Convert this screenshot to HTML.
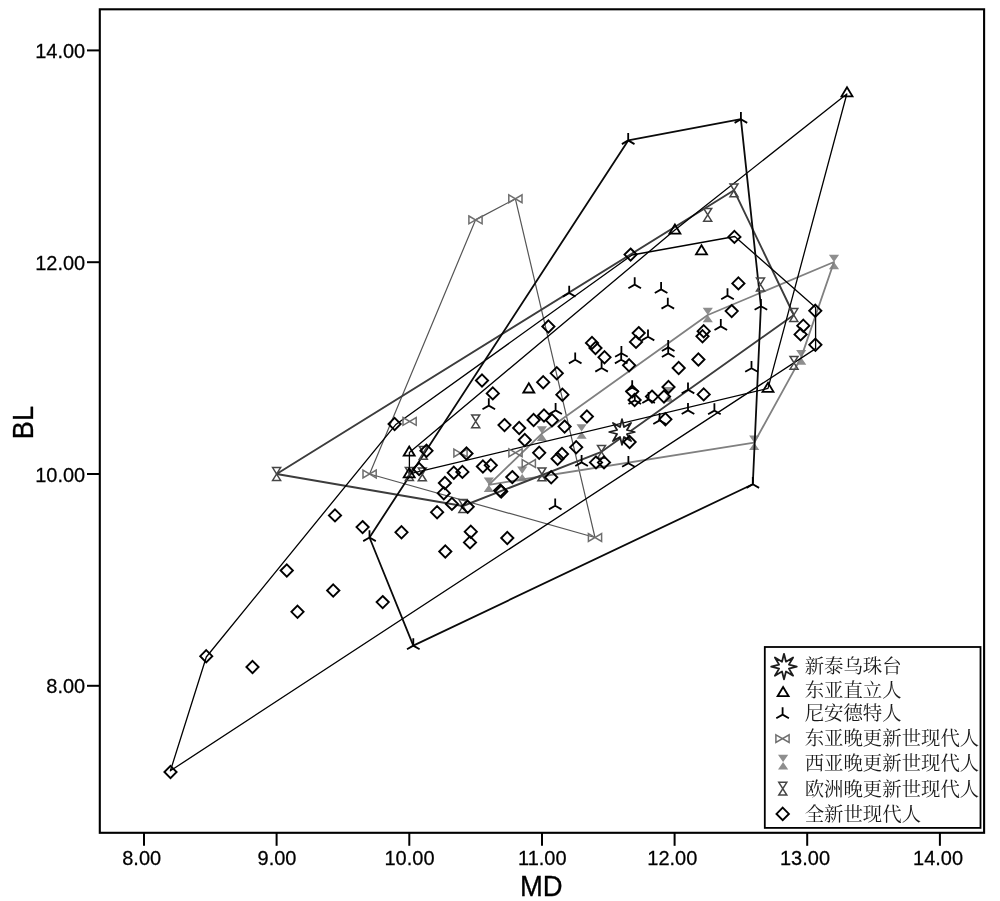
<!DOCTYPE html>
<html><head><meta charset="utf-8"><title>MD-BL</title>
<style>html,body{margin:0;padding:0;background:#fff}svg{display:block;will-change:transform}text{font-family:"Liberation Sans",sans-serif;fill:#000}</style></head>
<body>
<svg width="1000" height="901" viewBox="0 0 1000 901">
<rect width="1000" height="901" fill="#fff"/>
<rect x="99.8" y="9.3" width="884.3000000000001" height="823.5" fill="none" stroke="#000" stroke-width="2.1"/>
<line x1="144" y1="832.8" x2="144" y2="845.8" stroke="#000" stroke-width="2"/>
<text transform="translate(141.7 865.4) scale(0.985 1.03)" font-size="20.3" text-anchor="middle" stroke="#000" stroke-width="0.25">8.00</text>
<line x1="276.6" y1="832.8" x2="276.6" y2="845.8" stroke="#000" stroke-width="2"/>
<text transform="translate(277 865.4) scale(0.985 1.03)" font-size="20.3" text-anchor="middle" stroke="#000" stroke-width="0.25">9.00</text>
<line x1="409.3" y1="832.8" x2="409.3" y2="845.8" stroke="#000" stroke-width="2"/>
<text transform="translate(409.5 865.4) scale(0.985 1.03)" font-size="20.3" text-anchor="middle" stroke="#000" stroke-width="0.25">10.00</text>
<line x1="542" y1="832.8" x2="542" y2="845.8" stroke="#000" stroke-width="2"/>
<text transform="translate(542.3 865.4) scale(0.985 1.03)" font-size="20.3" text-anchor="middle" stroke="#000" stroke-width="0.25">11.00</text>
<line x1="674.6" y1="832.8" x2="674.6" y2="845.8" stroke="#000" stroke-width="2"/>
<text transform="translate(672.3 865.4) scale(0.985 1.03)" font-size="20.3" text-anchor="middle" stroke="#000" stroke-width="0.25">12.00</text>
<line x1="807.2" y1="832.8" x2="807.2" y2="845.8" stroke="#000" stroke-width="2"/>
<text transform="translate(805 865.4) scale(0.985 1.03)" font-size="20.3" text-anchor="middle" stroke="#000" stroke-width="0.25">13.00</text>
<line x1="939.9" y1="832.8" x2="939.9" y2="845.8" stroke="#000" stroke-width="2"/>
<text transform="translate(938.1 865.4) scale(0.985 1.03)" font-size="20.3" text-anchor="middle" stroke="#000" stroke-width="0.25">14.00</text>
<line x1="87" y1="685.8" x2="99.8" y2="685.8" stroke="#000" stroke-width="2"/>
<text transform="translate(85.2 693.4) scale(0.985 1.03)" font-size="20.3" text-anchor="end" stroke="#000" stroke-width="0.25">8.00</text>
<line x1="87" y1="474" x2="99.8" y2="474" stroke="#000" stroke-width="2"/>
<text transform="translate(85.2 481.6) scale(0.985 1.03)" font-size="20.3" text-anchor="end" stroke="#000" stroke-width="0.25">10.00</text>
<line x1="87" y1="262.2" x2="99.8" y2="262.2" stroke="#000" stroke-width="2"/>
<text transform="translate(85.2 269.8) scale(0.985 1.03)" font-size="20.3" text-anchor="end" stroke="#000" stroke-width="0.25">12.00</text>
<line x1="87" y1="50.4" x2="99.8" y2="50.4" stroke="#000" stroke-width="2"/>
<text transform="translate(85.2 58) scale(0.985 1.03)" font-size="20.3" text-anchor="end" stroke="#000" stroke-width="0.25">14.00</text>
<text transform="translate(541.3 896) scale(0.98 1.04)" font-size="28" text-anchor="middle" stroke="#000" stroke-width="0.3">MD</text>
<text transform="translate(33 422.6) rotate(-90) scale(0.97 1.045)" font-size="28" text-anchor="middle" stroke="#000" stroke-width="0.3">BL</text>
<path d="M483.7 477.5L493.9 477.5L483.7 492.1L493.9 492.1Z" fill="#8e8e8e" stroke="none"/>
<path d="M536.8 426.3L547 426.3L536.8 440.9L547 440.9Z" fill="#8e8e8e" stroke="none"/>
<path d="M702.7 307.7L712.9 307.7L702.7 322.3L712.9 322.3Z" fill="#8e8e8e" stroke="none"/>
<path d="M828.9 254.7L839.1 254.7L828.9 269.3L839.1 269.3Z" fill="#8e8e8e" stroke="none"/>
<path d="M796.1 350.1L806.3 350.1L796.1 364.7L806.3 364.7Z" fill="#8e8e8e" stroke="none"/>
<path d="M749.1 435.4L759.3 435.4L749.1 450L759.3 450Z" fill="#8e8e8e" stroke="none"/>
<path d="M517.1 466.6L527.3 466.6L517.1 481.2L527.3 481.2Z" fill="#8e8e8e" stroke="none"/>
<path d="M576.5 424.2L586.7 424.2L576.5 438.8L586.7 438.8Z" fill="#8e8e8e" stroke="none"/>
<path d="M663.4 387.1L673.6 387.1L663.4 401.7L673.6 401.7Z" fill="#8e8e8e" stroke="none"/>
<polygon points="369.6,474 475.5,219.9 515.4,198.8 595,537.5" fill="none" stroke="#555" stroke-width="1.2" stroke-linejoin="round"/>
<polygon points="488.8,484.8 541.9,433.6 707.8,315 834,262 801.2,357.4 754.2,442.7" fill="none" stroke="#808080" stroke-width="1.8" stroke-linejoin="round"/>
<polygon points="276.6,474 734,190.3 793.8,315 601.5,451.8 462.9,506" fill="none" stroke="#3c3c3c" stroke-width="1.9" stroke-linejoin="round"/>
<polygon points="170.4,770.8 206.3,657 395.5,424.8 632,255 734.8,236.5 815.6,307.5 815.6,348.6" fill="none" stroke="#000" stroke-width="1.3" stroke-linejoin="round"/>
<polygon points="409.4,452.5 674.9,230 846.8,94 768,388.4 409.4,473.8" fill="none" stroke="#000" stroke-width="1.3" stroke-linejoin="round"/>
<polygon points="413.3,645.6 369.5,537.5 628.2,140.4 740.9,119.2 760.9,306.2 752.8,484.3" fill="none" stroke="#0a0a0a" stroke-width="1.8" stroke-linejoin="round"/>
<path d="M363 470.1L376.2 477.9L376.2 470.1L363 477.9Z" fill="none" stroke="#6e6e6e" stroke-width="1.5"/>
<path d="M468.9 216L482.1 223.8L482.1 216L468.9 223.8Z" fill="none" stroke="#6e6e6e" stroke-width="1.5"/>
<path d="M508.8 194.9L522 202.7L522 194.9L508.8 202.7Z" fill="none" stroke="#6e6e6e" stroke-width="1.5"/>
<path d="M588.4 533.6L601.6 541.4L601.6 533.6L588.4 541.4Z" fill="none" stroke="#6e6e6e" stroke-width="1.5"/>
<path d="M403 417.5L416.2 425.3L416.2 417.5L403 425.3Z" fill="none" stroke="#6e6e6e" stroke-width="1.5"/>
<path d="M453.9 449.1L467.1 456.9L467.1 449.1L453.9 456.9Z" fill="none" stroke="#6e6e6e" stroke-width="1.5"/>
<path d="M508.9 448.9L522.1 456.7L522.1 448.9L508.9 456.7Z" fill="none" stroke="#6e6e6e" stroke-width="1.5"/>
<path d="M522.2 459.6L535.4 467.4L535.4 459.6L522.2 467.4Z" fill="none" stroke="#6e6e6e" stroke-width="1.5"/>
<path d="M272.6 467.6L280.6 467.6L272.6 480.4L280.6 480.4Z" fill="none" stroke="#454545" stroke-width="1.5"/>
<path d="M730 183.9L738 183.9L730 196.7L738 196.7Z" fill="none" stroke="#454545" stroke-width="1.5"/>
<path d="M789.8 308.6L797.8 308.6L789.8 321.4L797.8 321.4Z" fill="none" stroke="#454545" stroke-width="1.5"/>
<path d="M597.5 445.4L605.5 445.4L597.5 458.2L605.5 458.2Z" fill="none" stroke="#454545" stroke-width="1.5"/>
<path d="M458.9 499.6L466.9 499.6L458.9 512.4L466.9 512.4Z" fill="none" stroke="#454545" stroke-width="1.5"/>
<path d="M537.9 468L545.9 468L537.9 480.8L545.9 480.8Z" fill="none" stroke="#454545" stroke-width="1.5"/>
<path d="M790 356.4L798 356.4L790 369.2L798 369.2Z" fill="none" stroke="#454545" stroke-width="1.5"/>
<path d="M756.5 278.1L764.5 278.1L756.5 290.9L764.5 290.9Z" fill="none" stroke="#454545" stroke-width="1.5"/>
<path d="M703.7 208.4L711.7 208.4L703.7 221.2L711.7 221.2Z" fill="none" stroke="#454545" stroke-width="1.5"/>
<path d="M471.7 414.9L479.7 414.9L471.7 427.7L479.7 427.7Z" fill="none" stroke="#454545" stroke-width="1.5"/>
<path d="M419.3 446.5L427.3 446.5L419.3 459.3L427.3 459.3Z" fill="none" stroke="#454545" stroke-width="1.5"/>
<path d="M418.3 468L426.3 468L418.3 480.8L426.3 480.8Z" fill="none" stroke="#454545" stroke-width="1.5"/>
<path d="M405.4 467.6L413.4 467.6L405.4 480.4L413.4 480.4Z" fill="none" stroke="#454545" stroke-width="1.5"/>
<path d="M413.3 645.6L413.3 638.3M413.3 645.6L407 649.2M413.3 645.6L419.6 649.2" fill="none" stroke="#000" stroke-width="1.8"/>
<path d="M369.5 537.5L369.5 530.2M369.5 537.5L363.2 541.1M369.5 537.5L375.8 541.1" fill="none" stroke="#000" stroke-width="1.8"/>
<path d="M628.2 140.4L628.2 133.1M628.2 140.4L621.9 144.1M628.2 140.4L634.5 144.1" fill="none" stroke="#000" stroke-width="1.8"/>
<path d="M740.9 119.2L740.9 111.9M740.9 119.2L734.6 122.9M740.9 119.2L747.2 122.9" fill="none" stroke="#000" stroke-width="1.8"/>
<path d="M752.8 484.3L752.8 477M752.8 484.3L746.5 487.9M752.8 484.3L759.1 487.9" fill="none" stroke="#000" stroke-width="1.8"/>
<path d="M488.8 405.6L488.8 398.3M488.8 405.6L482.5 409.2M488.8 405.6L495.1 409.2" fill="none" stroke="#000" stroke-width="1.8"/>
<path d="M555.6 410.4L555.6 403.1M555.6 410.4L549.3 414M555.6 410.4L561.9 414" fill="none" stroke="#000" stroke-width="1.8"/>
<path d="M555.2 505.8L555.2 498.5M555.2 505.8L548.9 509.4M555.2 505.8L561.5 509.4" fill="none" stroke="#000" stroke-width="1.8"/>
<path d="M632.2 387.6L632.2 380.3M632.2 387.6L625.9 391.2M632.2 387.6L638.5 391.2" fill="none" stroke="#000" stroke-width="1.8"/>
<path d="M634.8 400.4L634.8 393.1M634.8 400.4L628.5 404M634.8 400.4L641.1 404" fill="none" stroke="#000" stroke-width="1.8"/>
<path d="M688 389.8L688 382.5M688 389.8L681.7 393.4M688 389.8L694.3 393.4" fill="none" stroke="#000" stroke-width="1.8"/>
<path d="M688 410.4L688 403.1M688 410.4L681.7 414M688 410.4L694.3 414" fill="none" stroke="#000" stroke-width="1.8"/>
<path d="M714.4 410.6L714.4 403.3M714.4 410.6L708.1 414.2M714.4 410.6L720.7 414.2" fill="none" stroke="#000" stroke-width="1.8"/>
<path d="M659.6 420.4L659.6 413.1M659.6 420.4L653.3 424M659.6 420.4L665.9 424" fill="none" stroke="#000" stroke-width="1.8"/>
<path d="M648.6 399.4L648.6 392.1M648.6 399.4L642.3 403M648.6 399.4L654.9 403" fill="none" stroke="#000" stroke-width="1.8"/>
<path d="M581.6 462.4L581.6 455.1M581.6 462.4L575.3 466M581.6 462.4L587.9 466" fill="none" stroke="#000" stroke-width="1.8"/>
<path d="M628.4 463.2L628.4 455.9M628.4 463.2L622.1 466.8M628.4 463.2L634.7 466.8" fill="none" stroke="#000" stroke-width="1.8"/>
<path d="M751.5 368.2L751.5 360.9M751.5 368.2L745.2 371.8M751.5 368.2L757.8 371.8" fill="none" stroke="#000" stroke-width="1.8"/>
<path d="M727.5 295.6L727.5 288.3M727.5 295.6L721.2 299.2M727.5 295.6L733.8 299.2" fill="none" stroke="#000" stroke-width="1.8"/>
<path d="M760.9 306.2L760.9 298.9M760.9 306.2L754.6 309.8M760.9 306.2L767.2 309.8" fill="none" stroke="#000" stroke-width="1.8"/>
<path d="M720.8 326.4L720.8 319.1M720.8 326.4L714.5 330M720.8 326.4L727.1 330" fill="none" stroke="#000" stroke-width="1.8"/>
<path d="M634.7 284.6L634.7 277.3M634.7 284.6L628.4 288.2M634.7 284.6L641 288.2" fill="none" stroke="#000" stroke-width="1.8"/>
<path d="M661.1 289.4L661.1 282.1M661.1 289.4L654.8 293M661.1 289.4L667.4 293" fill="none" stroke="#000" stroke-width="1.8"/>
<path d="M667.8 305L667.8 297.7M667.8 305L661.5 308.6M667.8 305L674.1 308.6" fill="none" stroke="#000" stroke-width="1.8"/>
<path d="M569.2 293L569.2 285.7M569.2 293L562.9 296.6M569.2 293L575.5 296.6" fill="none" stroke="#000" stroke-width="1.8"/>
<path d="M575.2 359.8L575.2 352.5M575.2 359.8L568.9 363.4M575.2 359.8L581.5 363.4" fill="none" stroke="#000" stroke-width="1.8"/>
<path d="M601.6 368L601.6 360.7M601.6 368L595.3 371.6M601.6 368L607.9 371.6" fill="none" stroke="#000" stroke-width="1.8"/>
<path d="M621.4 353.2L621.4 345.9M621.4 353.2L615.1 356.8M621.4 353.2L627.7 356.8" fill="none" stroke="#000" stroke-width="1.8"/>
<path d="M621.2 359.8L621.2 352.5M621.2 359.8L614.9 363.4M621.2 359.8L627.5 363.4" fill="none" stroke="#000" stroke-width="1.8"/>
<path d="M648 336.8L648 329.5M648 336.8L641.7 340.4M648 336.8L654.3 340.4" fill="none" stroke="#000" stroke-width="1.8"/>
<path d="M668.2 347.4L668.2 340.1M668.2 347.4L661.9 351M668.2 347.4L674.5 351" fill="none" stroke="#000" stroke-width="1.8"/>
<path d="M668.2 353.4L668.2 346.1M668.2 353.4L661.9 357M668.2 353.4L674.5 357" fill="none" stroke="#000" stroke-width="1.8"/>
<path d="M847 87.2L852.5 96.4L841.5 96.4Z" fill="none" stroke="#000" stroke-width="1.8"/>
<path d="M409.2 446.5L414.7 455.7L403.7 455.7Z" fill="none" stroke="#000" stroke-width="1.8"/>
<path d="M409.2 468.2L414.7 477.4L403.7 477.4Z" fill="none" stroke="#000" stroke-width="1.8"/>
<path d="M528.8 383.3L534.3 392.5L523.3 392.5Z" fill="none" stroke="#000" stroke-width="1.8"/>
<path d="M768 382.7L773.5 391.9L762.5 391.9Z" fill="none" stroke="#000" stroke-width="1.8"/>
<path d="M674.9 224.5L680.4 233.7L669.4 233.7Z" fill="none" stroke="#000" stroke-width="1.8"/>
<path d="M701.5 245.2L707 254.4L696 254.4Z" fill="none" stroke="#000" stroke-width="1.8"/>
<polygon points="622,419.2 624,427.1 631.1,422.9 626.9,430 634.8,432 626.9,434 631.1,441.1 624,436.9 622,444.8 620,436.9 612.9,441.1 617.1,434 609.2,432 617.1,430 612.9,422.9 620,427.1" fill="#fff" stroke="#1c1c1c" stroke-width="1.8" stroke-linejoin="round"/>
<path d="M170.5 765.9L176.6 772L170.5 778.1L164.4 772Z" fill="none" stroke="#000" stroke-width="1.9"/>
<path d="M206.2 650.1L212.3 656.2L206.2 662.4L200.2 656.2Z" fill="none" stroke="#000" stroke-width="1.9"/>
<path d="M252.5 660.9L258.6 667L252.5 673.1L246.4 667Z" fill="none" stroke="#000" stroke-width="1.9"/>
<path d="M286.8 564.4L292.9 570.5L286.8 576.6L280.6 570.5Z" fill="none" stroke="#000" stroke-width="1.9"/>
<path d="M297.5 605.6L303.6 611.8L297.5 617.9L291.4 611.8Z" fill="none" stroke="#000" stroke-width="1.9"/>
<path d="M333.2 584.4L339.4 590.5L333.2 596.6L327.1 590.5Z" fill="none" stroke="#000" stroke-width="1.9"/>
<path d="M382.7 596L388.8 602.1L382.7 608.2L376.6 602.1Z" fill="none" stroke="#000" stroke-width="1.9"/>
<path d="M394.6 417.9L400.7 424L394.6 430.1L388.5 424Z" fill="none" stroke="#000" stroke-width="1.9"/>
<path d="M426.5 444.7L432.6 450.8L426.5 456.9L420.4 450.8Z" fill="none" stroke="#000" stroke-width="1.9"/>
<path d="M419.1 462.9L425.2 469L419.1 475.1L413 469Z" fill="none" stroke="#000" stroke-width="1.9"/>
<path d="M335 509.3L341.1 515.4L335 521.5L328.9 515.4Z" fill="none" stroke="#000" stroke-width="1.9"/>
<path d="M362.6 521L368.7 527.1L362.6 533.2L356.5 527.1Z" fill="none" stroke="#000" stroke-width="1.9"/>
<path d="M401.5 526.2L407.6 532.3L401.5 538.4L395.4 532.3Z" fill="none" stroke="#000" stroke-width="1.9"/>
<path d="M437.1 506.1L443.2 512.2L437.1 518.3L431 512.2Z" fill="none" stroke="#000" stroke-width="1.9"/>
<path d="M482 374.4L488.1 380.5L482 386.6L475.9 380.5Z" fill="none" stroke="#000" stroke-width="1.9"/>
<path d="M492.8 387.3L498.9 393.4L492.8 399.5L486.7 393.4Z" fill="none" stroke="#000" stroke-width="1.9"/>
<path d="M543.2 376.1L549.3 382.2L543.2 388.3L537.1 382.2Z" fill="none" stroke="#000" stroke-width="1.9"/>
<path d="M562.4 388.6L568.5 394.7L562.4 400.8L556.3 394.7Z" fill="none" stroke="#000" stroke-width="1.9"/>
<path d="M504.5 419L510.6 425.1L504.5 431.2L498.4 425.1Z" fill="none" stroke="#000" stroke-width="1.9"/>
<path d="M519.2 421.9L525.3 428L519.2 434.1L513.1 428Z" fill="none" stroke="#000" stroke-width="1.9"/>
<path d="M533.6 413.9L539.7 420L533.6 426.1L527.5 420Z" fill="none" stroke="#000" stroke-width="1.9"/>
<path d="M544 409.4L550.1 415.5L544 421.6L537.9 415.5Z" fill="none" stroke="#000" stroke-width="1.9"/>
<path d="M552 414.2L558.1 420.3L552 426.4L545.9 420.3Z" fill="none" stroke="#000" stroke-width="1.9"/>
<path d="M564.6 420.5L570.7 426.6L564.6 432.7L558.5 426.6Z" fill="none" stroke="#000" stroke-width="1.9"/>
<path d="M524.8 433.9L530.9 440L524.8 446.1L518.7 440Z" fill="none" stroke="#000" stroke-width="1.9"/>
<path d="M539.2 446.7L545.3 452.8L539.2 458.9L533.1 452.8Z" fill="none" stroke="#000" stroke-width="1.9"/>
<path d="M576.2 441.2L582.3 447.3L576.2 453.4L570.1 447.3Z" fill="none" stroke="#000" stroke-width="1.9"/>
<path d="M562 447.9L568.1 454L562 460.1L555.9 454Z" fill="none" stroke="#000" stroke-width="1.9"/>
<path d="M557.6 452.6L563.7 458.7L557.6 464.8L551.5 458.7Z" fill="none" stroke="#000" stroke-width="1.9"/>
<path d="M466.5 447.4L472.6 453.5L466.5 459.6L460.4 453.5Z" fill="none" stroke="#000" stroke-width="1.9"/>
<path d="M482.9 460.4L489 466.5L482.9 472.6L476.8 466.5Z" fill="none" stroke="#000" stroke-width="1.9"/>
<path d="M490.8 459.2L496.9 465.3L490.8 471.4L484.7 465.3Z" fill="none" stroke="#000" stroke-width="1.9"/>
<path d="M453.8 466.6L459.9 472.7L453.8 478.8L447.7 472.7Z" fill="none" stroke="#000" stroke-width="1.9"/>
<path d="M462.4 465.8L468.5 471.9L462.4 478L456.3 471.9Z" fill="none" stroke="#000" stroke-width="1.9"/>
<path d="M444.9 476.9L451 483L444.9 489.1L438.8 483Z" fill="none" stroke="#000" stroke-width="1.9"/>
<path d="M443.8 487.1L449.9 493.2L443.8 499.3L437.7 493.2Z" fill="none" stroke="#000" stroke-width="1.9"/>
<path d="M451.9 497.8L458 503.9L451.9 510L445.8 503.9Z" fill="none" stroke="#000" stroke-width="1.9"/>
<path d="M467.7 500.7L473.8 506.8L467.7 512.9L461.6 506.8Z" fill="none" stroke="#000" stroke-width="1.9"/>
<path d="M512.3 471L518.4 477.1L512.3 483.2L506.2 477.1Z" fill="none" stroke="#000" stroke-width="1.9"/>
<path d="M500.2 484.5L506.3 490.6L500.2 496.7L494.1 490.6Z" fill="none" stroke="#000" stroke-width="1.9"/>
<path d="M501.2 485.5L507.3 491.6L501.2 497.7L495.1 491.6Z" fill="none" stroke="#000" stroke-width="1.9"/>
<path d="M551.2 471.2L557.3 477.3L551.2 483.4L545.1 477.3Z" fill="none" stroke="#000" stroke-width="1.9"/>
<path d="M445.3 545.4L451.4 551.5L445.3 557.6L439.2 551.5Z" fill="none" stroke="#000" stroke-width="1.9"/>
<path d="M470.8 525.6L476.9 531.7L470.8 537.8L464.7 531.7Z" fill="none" stroke="#000" stroke-width="1.9"/>
<path d="M470 536.3L476.1 542.4L470 548.5L463.9 542.4Z" fill="none" stroke="#000" stroke-width="1.9"/>
<path d="M507.3 531.9L513.4 538L507.3 544.1L501.2 538Z" fill="none" stroke="#000" stroke-width="1.9"/>
<path d="M586.9 410.4L593 416.5L586.9 422.6L580.8 416.5Z" fill="none" stroke="#000" stroke-width="1.9"/>
<path d="M632.2 385.3L638.3 391.4L632.2 397.5L626.1 391.4Z" fill="none" stroke="#000" stroke-width="1.9"/>
<path d="M634.6 393.9L640.7 400L634.6 406.1L628.5 400Z" fill="none" stroke="#000" stroke-width="1.9"/>
<path d="M652 390.5L658.1 396.6L652 402.7L645.9 396.6Z" fill="none" stroke="#000" stroke-width="1.9"/>
<path d="M664 390.5L670.1 396.6L664 402.7L657.9 396.6Z" fill="none" stroke="#000" stroke-width="1.9"/>
<path d="M668.5 380.9L674.6 387L668.5 393.1L662.4 387Z" fill="none" stroke="#000" stroke-width="1.9"/>
<path d="M703.7 388.3L709.8 394.4L703.7 400.5L697.6 394.4Z" fill="none" stroke="#000" stroke-width="1.9"/>
<path d="M665.4 413.2L671.5 419.3L665.4 425.4L659.3 419.3Z" fill="none" stroke="#000" stroke-width="1.9"/>
<path d="M629.6 435.9L635.7 442L629.6 448.1L623.5 442Z" fill="none" stroke="#000" stroke-width="1.9"/>
<path d="M596 456.3L602.1 462.4L596 468.5L589.9 462.4Z" fill="none" stroke="#000" stroke-width="1.9"/>
<path d="M604 456.3L610.1 462.4L604 468.5L597.9 462.4Z" fill="none" stroke="#000" stroke-width="1.9"/>
<path d="M800.6 328.3L806.7 334.4L800.6 340.5L794.5 334.4Z" fill="none" stroke="#000" stroke-width="1.9"/>
<path d="M815.4 338.7L821.5 344.8L815.4 350.9L809.3 344.8Z" fill="none" stroke="#000" stroke-width="1.9"/>
<path d="M703.7 325.1L709.8 331.2L703.7 337.3L697.6 331.2Z" fill="none" stroke="#000" stroke-width="1.9"/>
<path d="M702.5 330.2L708.6 336.3L702.5 342.4L696.4 336.3Z" fill="none" stroke="#000" stroke-width="1.9"/>
<path d="M734.4 230.8L740.5 236.9L734.4 243L728.3 236.9Z" fill="none" stroke="#000" stroke-width="1.9"/>
<path d="M738.4 277.3L744.5 283.4L738.4 289.5L732.3 283.4Z" fill="none" stroke="#000" stroke-width="1.9"/>
<path d="M731.7 305L737.8 311.1L731.7 317.2L725.6 311.1Z" fill="none" stroke="#000" stroke-width="1.9"/>
<path d="M815.3 304.7L821.4 310.8L815.3 316.9L809.2 310.8Z" fill="none" stroke="#000" stroke-width="1.9"/>
<path d="M803.3 319.6L809.4 325.7L803.3 331.8L797.2 325.7Z" fill="none" stroke="#000" stroke-width="1.9"/>
<path d="M630.6 248.5L636.7 254.6L630.6 260.7L624.5 254.6Z" fill="none" stroke="#000" stroke-width="1.9"/>
<path d="M548.4 320.4L554.5 326.5L548.4 332.6L542.3 326.5Z" fill="none" stroke="#000" stroke-width="1.9"/>
<path d="M556.8 367.2L562.9 373.3L556.8 379.4L550.7 373.3Z" fill="none" stroke="#000" stroke-width="1.9"/>
<path d="M592 336.8L598.1 342.9L592 349L585.9 342.9Z" fill="none" stroke="#000" stroke-width="1.9"/>
<path d="M595.5 341.9L601.6 348L595.5 354.1L589.4 348Z" fill="none" stroke="#000" stroke-width="1.9"/>
<path d="M604.5 351.2L610.6 357.3L604.5 363.4L598.4 357.3Z" fill="none" stroke="#000" stroke-width="1.9"/>
<path d="M638.7 327L644.8 333.1L638.7 339.2L632.6 333.1Z" fill="none" stroke="#000" stroke-width="1.9"/>
<path d="M636 335.8L642.1 341.9L636 348L629.9 341.9Z" fill="none" stroke="#000" stroke-width="1.9"/>
<path d="M629.1 359.2L635.2 365.3L629.1 371.4L623 365.3Z" fill="none" stroke="#000" stroke-width="1.9"/>
<path d="M698.4 353.4L704.5 359.5L698.4 365.6L692.3 359.5Z" fill="none" stroke="#000" stroke-width="1.9"/>
<path d="M678.7 361.9L684.8 368L678.7 374.1L672.6 368Z" fill="none" stroke="#000" stroke-width="1.9"/>
<rect x="764.8" y="647" width="215.70000000000005" height="180.89999999999998" fill="#fff" stroke="#000" stroke-width="1.8"/>
<g aria-label="新泰乌珠台">
<text x="804.7" y="673.4" font-size="19.4" style="font-family:'Liberation Serif','Noto Serif CJK SC',serif;fill:#1a1a1a">新泰乌珠台</text>
</g>
<g aria-label="东亚直立人">
<text x="804.7" y="697.3" font-size="19.4" style="font-family:'Liberation Serif','Noto Serif CJK SC',serif;fill:#1a1a1a">东亚直立人</text>
</g>
<g aria-label="尼安德特人">
<text x="804.7" y="720.4" font-size="19.4" style="font-family:'Liberation Serif','Noto Serif CJK SC',serif;fill:#1a1a1a">尼安德特人</text>
</g>
<g aria-label="东亚晚更新世现代人">
<text x="804.7" y="745.4" font-size="19.4" style="font-family:'Liberation Serif','Noto Serif CJK SC',serif;fill:#1a1a1a">东亚晚更新世现代人</text>
</g>
<g aria-label="西亚晚更新世现代人">
<text x="804.7" y="770.4" font-size="19.4" style="font-family:'Liberation Serif','Noto Serif CJK SC',serif;fill:#1a1a1a">西亚晚更新世现代人</text>
</g>
<g aria-label="欧洲晚更新世现代人">
<text x="804.7" y="796.4" font-size="19.4" style="font-family:'Liberation Serif','Noto Serif CJK SC',serif;fill:#1a1a1a">欧洲晚更新世现代人</text>
</g>
<g aria-label="全新世现代人">
<text x="804.7" y="820.9" font-size="19.4" style="font-family:'Liberation Serif','Noto Serif CJK SC',serif;fill:#1a1a1a">全新世现代人</text>
</g>
<polygon points="784,653.8 786,661.7 793.1,657.5 788.9,664.6 796.8,666.6 788.9,668.6 793.1,675.7 786,671.5 784,679.4 782,671.5 774.9,675.7 779.1,668.6 771.2,666.6 779.1,664.6 774.9,657.5 782,661.7" fill="#fff" stroke="#1c1c1c" stroke-width="1.8" stroke-linejoin="round"/>
<path d="M783.1 687L788.6 696.2L777.6 696.2Z" fill="none" stroke="#000" stroke-width="1.8"/>
<path d="M782.6 714.6L782.6 707.3M782.6 714.6L776.3 718.2M782.6 714.6L788.9 718.2" fill="none" stroke="#000" stroke-width="1.8"/>
<path d="M775.9 734.9L789.1 742.5L789.1 734.9L775.9 742.5Z" fill="none" stroke="#6e6e6e" stroke-width="1.5"/>
<path d="M778 754.8L788.2 754.8L778 769.4L788.2 769.4Z" fill="#8e8e8e" stroke="none"/>
<path d="M778.8 782.3L786.8 782.3L778.8 795.1L786.8 795.1Z" fill="none" stroke="#454545" stroke-width="1.5"/>
<path d="M782.7 807.7L788.9 813.9L782.7 820.1L776.5 813.9Z" fill="none" stroke="#000" stroke-width="1.9"/>
</svg></body></html>
